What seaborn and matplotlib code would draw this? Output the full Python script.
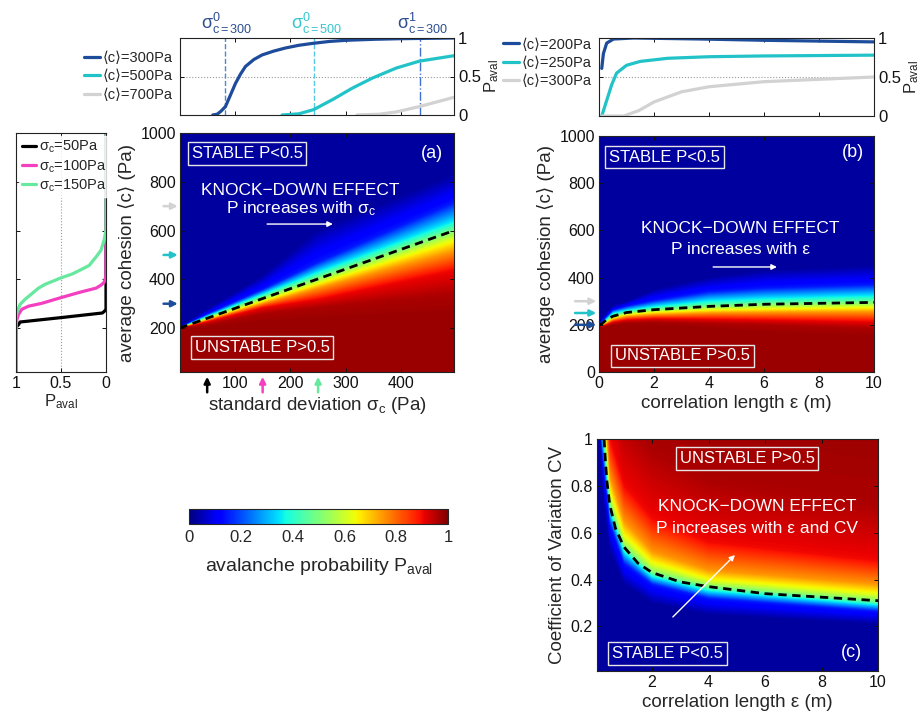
import numpy as np
import matplotlib
matplotlib.use("Agg")
import matplotlib.pyplot as plt
import matplotlib.transforms as mtrans
import seaborn as sns

# ---------------- data ----------------
# top-left panel: P_aval vs sigma_c for <c> = 300, 500, 700 Pa
sig_c300 = [60, 68, 75, 83, 92, 101, 110, 119, 134, 149, 170, 191, 215, 240, 270, 300, 350, 391, 440, 495]
p_c300 = [0, 0.01, 0.05, 0.11, 0.26, 0.41, 0.53, 0.63, 0.72, 0.78, 0.83, 0.87, 0.905, 0.93, 0.955, 0.97, 0.983, 0.99, 0.995, 1.0]
sig_c500 = [185, 215, 242, 276, 312, 348, 391, 433, 495]
p_c500 = [0, 0.015, 0.07, 0.2, 0.35, 0.48, 0.61, 0.70, 0.77]
sig_c700 = [320, 360, 391, 433, 495]
p_c700 = [0, 0.01, 0.04, 0.11, 0.23]
sig_marks = [83, 242, 434]            # sigma^0_{c=300}, sigma^0_{c=500}, sigma^1_{c=300}

# top-right panel: P_aval vs epsilon for <c> = 200, 250, 300 Pa
eps_c200 = [0.1, 0.16, 0.28, 0.53, 1.26, 3.69, 6.1, 10]
p_c200 = [0.61, 0.8, 0.935, 0.987, 1.0, 0.987, 0.97, 0.95]
eps_c250 = [0.1, 0.28, 0.46, 0.64, 1.0, 1.5, 2.5, 4, 6, 8, 10]
p_c250 = [0, 0.2, 0.4, 0.55, 0.65, 0.7, 0.74, 0.76, 0.77, 0.775, 0.78]
eps_c300 = [0.1, 0.9, 1.45, 2, 3, 4, 6, 8, 10]
p_c300b = [0, 0, 0.07, 0.18, 0.31, 0.375, 0.44, 0.47, 0.50]

# left panel: P_aval vs <c> for three sigma_c
c_s50 = [20, 200, 207, 215, 225, 243, 262, 270, 277, 1000]
p_s50 = [1, 1, 0.99, 0.97, 0.955, 0.5, 0.04, 0.015, 0, 0]
c_s100 = [20, 210, 234, 255, 277, 290, 301, 325, 346, 364, 376, 388, 416, 1000]
p_s100 = [1, 1, 0.99, 0.974, 0.936, 0.86, 0.72, 0.5, 0.3, 0.11, 0.056, 0.02, 0, 0]
c_s150 = [20, 240, 256, 275, 297, 318, 341, 364, 380, 406, 422, 443, 457, 492, 519, 562, 603, 1000]
p_s150 = [1, 1, 0.995, 0.98, 0.955, 0.9, 0.824, 0.75, 0.674, 0.5, 0.375, 0.26, 0.187, 0.11, 0.056, 0.02, 0, 0]

# panel (a): contour positions (<c>) of P levels at several sigma_c
pa_levels = [0.975, 0.96, 0.9, 0.75, 0.62, 0.5, 0.35, 0.15, 0.03]
pa_sigma = [0, 50, 150, 250, 495]
pa_c = [[198, 199, 199.5, 200, 200.5, 201, 202, 203, 205],
        [205, 215, 227, 234, 238, 243, 249, 257, 277],
        [225, 260, 285, 301, 313, 325, 340, 358, 416],
        [240, 285, 320, 364, 386, 406, 432, 470, 603],
        [260, 340, 440, 515, 566, 600, 640, 715, 830]]
pa_line_sigma = [0, 495]
pa_line_c = [200, 600]

# panel (b): contour positions (<c>) of P levels at several epsilon
pb_levels = [0.975, 0.96, 0.9, 0.75, 0.62, 0.5, 0.35, 0.15, 0.03]
pb_eps = [0, 0.1, 0.5, 1, 2, 4, 6, 10]
pb_c = [[196, 197, 198, 199, 199.5, 200, 200.5, 201, 202],
        [185, 190, 194, 197, 200, 203, 207, 214, 230],
        [195, 203, 212, 222, 230, 236, 250, 262, 280],
        [200, 210, 222, 235, 245, 252, 262, 278, 300],
        [198, 213, 227, 243, 255, 264, 279, 302, 350],
        [185, 205, 225, 250, 265, 278, 303, 340, 400],
        [165, 200, 222, 252, 270, 287, 313, 355, 430],
        [150, 185, 215, 255, 277, 295, 325, 370, 450]]
pb_line_eps = [0, 0.1, 0.25, 0.5, 1, 2, 4, 6, 8, 10]
pb_line_c = [200, 204, 220, 236, 252, 264, 278, 287, 291, 295]

# panel (c): contour positions (CV) of P levels at several epsilon
pc_levels = [0.03, 0.15, 0.35, 0.5, 0.62, 0.75, 0.9, 0.96, 0.975]
pc_eps = [0.05, 0.2, 0.3, 0.5, 1, 2, 4, 10]
pc_cv = [[1.3, 1.5, 1.7, 1.8, 1.9, 2.0, 2.2, 2.5, 3.0],
         [0.85, 0.97, 1.05, 1.15, 1.25, 1.35, 1.5, 1.8, 2.2],
         [0.7, 0.86, 0.94, 1.0, 1.08, 1.15, 1.3, 1.6, 2.0],
         [0.52, 0.64, 0.69, 0.72, 0.77, 0.84, 1.0, 1.3, 1.7],
         [0.38, 0.47, 0.515, 0.54, 0.58, 0.65, 0.8, 1.1, 1.5],
         [0.3, 0.38, 0.41, 0.43, 0.465, 0.52, 0.66, 0.95, 1.3],
         [0.25, 0.32, 0.35, 0.37, 0.395, 0.44, 0.56, 0.82, 1.15],
         [0.21, 0.265, 0.29, 0.307, 0.335, 0.38, 0.48, 0.72, 1.05]]
pc_line_eps = [0.3, 0.35, 0.4, 0.5, 0.7, 1, 1.5, 2, 3, 4, 6, 8, 10]
pc_line_cv = [1.0, 0.9, 0.82, 0.72, 0.62, 0.54, 0.47, 0.43, 0.39, 0.37, 0.34, 0.325, 0.31]

cbar_ticks = [0, 0.2, 0.4, 0.6, 0.8, 1]

# ---------------- style ----------------
sns.set_theme(style="ticks")
plt.rcParams["font.family"] = ["Liberation Sans", "DejaVu Sans"]
plt.rcParams["mathtext.fontset"] = "custom"
plt.rcParams["mathtext.rm"] = "Liberation Sans"
plt.rcParams["mathtext.it"] = "Liberation Sans"
plt.rcParams["mathtext.bf"] = "Liberation Sans:bold"
plt.rcParams["axes.unicode_minus"] = False

DBLUE = "#1d4c9a"
CYAN = "#22c3c8"
LGRAY = "#d2d2d2"
PINK = "#f43fc0"
MINT = "#66e89f"

W, H = 924, 717
fig = plt.figure(figsize=(W / 100, H / 100), dpi=100)


def add_ax(x0, y0, x1, y1):
    return fig.add_axes([x0 / W, 1 - y1 / H, (x1 - x0) / W, (y1 - y0) / H])


def style(ax, fs=11):
    for s in ax.spines.values():
        s.set_color("#222222")
        s.set_linewidth(0.8)
    ax.tick_params(direction="in", length=3, width=0.7, top=True, right=True,
                   bottom=True, left=True, labelsize=fs, colors="#111111", pad=3)


def build_field(xs, ys, stations, lev_vals, p_lev):
    lev = np.array(lev_vals, dtype=float)
    L = np.stack([np.interp(xs, stations, lev[:, k]) for k in range(lev.shape[1])], axis=1)
    Z = np.empty((len(ys), len(xs)))
    for j in range(len(xs)):
        Z[:, j] = np.interp(ys, L[j], p_lev)
    return Z


def boxtext(ax, x, y, s, fs=12):
    ax.text(x, y, s, transform=ax.transAxes, color="white", fontsize=fs, ha="center", va="center",
            bbox=dict(boxstyle="square,pad=0.22", fc="none", ec="#e6e6e6", lw=1.0), zorder=5)


def side_arrow(ax, xy, xytext, color, coords):
    ax.annotate("", xy=xy, xytext=xytext, xycoords=coords, textcoords=coords,
                arrowprops=dict(arrowstyle="-|>", color=color, lw=1.8, mutation_scale=9,
                                shrinkA=0, shrinkB=0), annotation_clip=False)


PLAB = r"P$_{\mathrm{aval}}$"

# ---------------- top-left ----------------
ax_tl = add_ax(180, 38, 454, 115)
sns.lineplot(x=sig_c300, y=p_c300, ax=ax_tl, color=DBLUE, lw=2.3, label="⟨c⟩=300Pa")
sns.lineplot(x=sig_c500, y=p_c500, ax=ax_tl, color=CYAN, lw=2.3, label="⟨c⟩=500Pa")
sns.lineplot(x=sig_c700, y=p_c700, ax=ax_tl, color=LGRAY, lw=2.3, label="⟨c⟩=700Pa")
ax_tl.axhline(0.5, color="#999999", ls=":", lw=0.8, zorder=0)
ax_tl.axvline(sig_marks[0], color="#4f86d6", ls="--", lw=1.0, zorder=0)
ax_tl.axvline(sig_marks[1], color="#56c8e6", ls="--", lw=1.0, zorder=0)
ax_tl.axvline(sig_marks[2], color="#4070d0", ls="-.", lw=1.0, zorder=0)
tr = mtrans.blended_transform_factory(ax_tl.transData, ax_tl.transAxes)
ax_tl.text(85, 1.03, r"$\sigma^0_{c=300}$", transform=tr, ha="center", va="bottom", color="#2d4f91", fontsize=13)
ax_tl.text(247, 1.03, r"$\sigma^0_{c=500}$", transform=tr, ha="center", va="bottom", color="#35c6cf", fontsize=13)
ax_tl.text(438, 1.03, r"$\sigma^1_{c=300}$", transform=tr, ha="center", va="bottom", color="#2d4f91", fontsize=13)
ax_tl.set_xlim(1, 495)
ax_tl.set_ylim(0, 1)
ax_tl.set_xticks([100, 200, 300, 400])
ax_tl.set_yticks([0, 0.5, 1])
ax_tl.set_yticklabels(["0", "0.5", "1"])
style(ax_tl, 12)
ax_tl.tick_params(labelbottom=False, labelleft=False, labelright=True)
ax_tl.yaxis.set_label_position("right")
ax_tl.set_ylabel(PLAB, fontsize=12, labelpad=1)
ax_tl.set_xlabel("")
ax_tl.legend(loc="center right", bbox_to_anchor=(-0.005, 0.5), frameon=False, fontsize=10.5,
             handlelength=1.1, handletextpad=0.2, labelspacing=0.3, borderaxespad=0)

# ---------------- top-right ----------------
ax_tr = add_ax(599, 38, 874, 116)
sns.lineplot(x=eps_c200, y=p_c200, ax=ax_tr, color=DBLUE, lw=2.3, label="⟨c⟩=200Pa")
sns.lineplot(x=eps_c250, y=p_c250, ax=ax_tr, color=CYAN, lw=2.3, label="⟨c⟩=250Pa")
sns.lineplot(x=eps_c300, y=p_c300b, ax=ax_tr, color=LGRAY, lw=2.3, label="⟨c⟩=300Pa")
ax_tr.axhline(0.5, color="#999999", ls=":", lw=0.8, zorder=0)
ax_tr.set_xlim(0, 10)
ax_tr.set_ylim(0, 1)
ax_tr.set_xticks([2, 4, 6, 8])
ax_tr.set_yticks([0, 0.5, 1])
ax_tr.set_yticklabels(["0", "0.5", "1"])
style(ax_tr, 12)
ax_tr.tick_params(labelbottom=False, labelleft=False, labelright=True)
ax_tr.yaxis.set_label_position("right")
ax_tr.set_ylabel(PLAB, fontsize=12, labelpad=1)
ax_tr.set_xlabel("")
ax_tr.legend(loc="upper right", bbox_to_anchor=(-0.005, 1.08), frameon=False, fontsize=10.5,
             handlelength=1.1, handletextpad=0.2, labelspacing=0.3, borderaxespad=0)

# ---------------- left panel ----------------
ax_l = add_ax(16, 133, 106, 372)
ax_l.axvline(0.5, color="#999999", ls=":", lw=0.8, zorder=0)
sns.lineplot(x=p_s50, y=c_s50, ax=ax_l, color="black", lw=2.3, orient="y", estimator=None, label=r"$\sigma_c$=50Pa")
sns.lineplot(x=p_s100, y=c_s100, ax=ax_l, color=PINK, lw=2.3, orient="y", estimator=None, label=r"$\sigma_c$=100Pa")
sns.lineplot(x=p_s150, y=c_s150, ax=ax_l, color=MINT, lw=2.3, orient="y", estimator=None, label=r"$\sigma_c$=150Pa")
ax_l.set_xlim(1, 0)
ax_l.set_ylim(20, 1000)
ax_l.set_xticks([1, 0.5, 0])
ax_l.set_xticklabels(["1", "0.5", "0"])
ax_l.set_yticks([200, 400, 600, 800])
style(ax_l, 11.5)
ax_l.tick_params(labelleft=False)
ax_l.set_ylabel("")
ax_l.set_xlabel(PLAB, fontsize=12, labelpad=1)
leg = ax_l.legend(loc="upper left", bbox_to_anchor=(0.0, 1.0), frameon=True, fontsize=10.5,
                  handlelength=1.0, handletextpad=0.2, labelspacing=0.2, borderaxespad=0.2,
                  borderpad=0.2, fancybox=False)
leg.get_frame().set_facecolor("white")
leg.get_frame().set_edgecolor("white")

# ---------------- panel (a) ----------------
ax_a = add_ax(180, 133, 454, 372)
xs = np.linspace(1, 495, 500)
ys = np.linspace(20, 1000, 600)
Za = build_field(xs, ys, pa_sigma, pa_c, pa_levels)
ax_a.imshow(Za, origin="lower", extent=[1, 495, 20, 1000], aspect="auto", cmap="jet",
            vmin=0, vmax=1, interpolation="bilinear")
sns.lineplot(x=pa_line_sigma, y=pa_line_c, ax=ax_a, color="black", lw=2.0, linestyle=(0, (3, 2)))
ax_a.set_xlim(1, 495)
ax_a.set_ylim(20, 1000)
ax_a.set_xticks([100, 200, 300, 400])
ax_a.set_yticks([200, 400, 600, 800, 1000])
style(ax_a, 11.5)
ax_a.set_xlabel(r"standard deviation $\sigma_c$ (Pa)", fontsize=13.5, labelpad=3)
ax_a.set_ylabel("average cohesion ⟨c⟩ (Pa)", fontsize=13.5, labelpad=3)
boxtext(ax_a, 0.245, 0.914, "STABLE P<0.5")
boxtext(ax_a, 0.30, 0.1025, "UNSTABLE P>0.5")
ax_a.text(0.92, 0.915, "(a)", transform=ax_a.transAxes, color="white", fontsize=13, ha="center", va="center")
ax_a.text(0.438, 0.761, "KNOCK−DOWN EFFECT", transform=ax_a.transAxes, color="white", fontsize=12.5, ha="center", va="center")
ax_a.text(0.44, 0.685, r"P increases with $\sigma_c$", transform=ax_a.transAxes, color="white", fontsize=12.5, ha="center", va="center")
ax_a.annotate("", xy=(0.558, 0.619), xytext=(0.318, 0.619), xycoords="axes fraction",
              arrowprops=dict(arrowstyle="-|>", color="white", lw=1.0, mutation_scale=8, shrinkA=0, shrinkB=0))
for cval, col in [(700, LGRAY), (500, CYAN), (300, DBLUE)]:
    side_arrow(ax_a, (-0.008, cval), (-0.06, cval), col, ("axes fraction", "data"))
for sval, col in [(50, "black"), (150, PINK), (250, MINT)]:
    side_arrow(ax_a, (sval, -0.02), (sval, -0.085), col, ("data", "axes fraction"))

# ---------------- panel (b) ----------------
ax_b = add_ax(599, 136, 874, 372)
xs = np.linspace(0, 10, 600)
ys = np.linspace(0, 1000, 700)
Zb = build_field(xs, ys, pb_eps, pb_c, pb_levels)
ax_b.imshow(Zb, origin="lower", extent=[0, 10, 0, 1000], aspect="auto", cmap="jet",
            vmin=0, vmax=1, interpolation="bilinear")
sns.lineplot(x=pb_line_eps, y=pb_line_c, ax=ax_b, color="black", lw=2.0, linestyle=(0, (3, 2)))
ax_b.set_xlim(0, 10)
ax_b.set_ylim(0, 1000)
ax_b.set_xticks([0, 2, 4, 6, 8, 10])
ax_b.set_yticks([0, 200, 400, 600, 800, 1000])
style(ax_b, 11.5)
ax_b.set_xlabel("correlation length ε (m)", fontsize=13.5, labelpad=3)
ax_b.set_ylabel("average cohesion ⟨c⟩ (Pa)", fontsize=13.5, labelpad=3)
boxtext(ax_b, 0.238, 0.911, "STABLE P<0.5")
boxtext(ax_b, 0.304, 0.068, "UNSTABLE P>0.5")
ax_b.text(0.924, 0.93, "(b)", transform=ax_b.transAxes, color="white", fontsize=13, ha="center", va="center")
ax_b.text(0.513, 0.606, "KNOCK−DOWN EFFECT", transform=ax_b.transAxes, color="white", fontsize=12.5, ha="center", va="center")
ax_b.text(0.514, 0.517, "P increases with ε", transform=ax_b.transAxes, color="white", fontsize=12.5, ha="center", va="center")
ax_b.annotate("", xy=(0.647, 0.445), xytext=(0.415, 0.445), xycoords="axes fraction",
              arrowprops=dict(arrowstyle="-|>", color="white", lw=1.0, mutation_scale=8, shrinkA=0, shrinkB=0))
for cval, col in [(300, LGRAY), (250, CYAN), (200, DBLUE)]:
    side_arrow(ax_b, (-0.01, cval), (-0.087, cval), col, ("axes fraction", "data"))

# ---------------- panel (c) ----------------
ax_c = add_ax(597, 439, 878, 671)
xs = np.linspace(0.05, 10, 800)
ys = np.linspace(0.01, 1, 600)
Zc = build_field(xs, ys, pc_eps, pc_cv, pc_levels)
ax_c.imshow(Zc, origin="lower", extent=[0.05, 10, 0.01, 1], aspect="auto", cmap="jet",
            vmin=0, vmax=1, interpolation="bilinear")
sns.lineplot(x=pc_line_eps, y=pc_line_cv, ax=ax_c, color="black", lw=2.0, linestyle=(0, (3, 2)))
ax_c.set_xlim(0.05, 10)
ax_c.set_ylim(0.01, 1)
ax_c.set_xticks([2, 4, 6, 8, 10])
ax_c.set_yticks([0.2, 0.4, 0.6, 0.8, 1])
ax_c.set_yticklabels(["0.2", "0.4", "0.6", "0.8", "1"])
style(ax_c, 11.5)
ax_c.set_xlabel("correlation length ε (m)", fontsize=13.5, labelpad=3)
ax_c.set_ylabel("Coefficient of Variation CV", fontsize=13.5, labelpad=3)
boxtext(ax_c, 0.534, 0.916, "UNSTABLE P>0.5")
boxtext(ax_c, 0.251, 0.075, "STABLE P<0.5")
ax_c.text(0.907, 0.078, "(c)", transform=ax_c.transAxes, color="white", fontsize=13, ha="center", va="center")
ax_c.text(0.569, 0.707, "KNOCK−DOWN EFFECT", transform=ax_c.transAxes, color="white", fontsize=12.5, ha="center", va="center")
ax_c.text(0.569, 0.616, "P increases with ε and CV", transform=ax_c.transAxes, color="white", fontsize=12.5, ha="center", va="center")
ax_c.annotate("", xy=(0.491, 0.500), xytext=(0.270, 0.233), xycoords="axes fraction",
              arrowprops=dict(arrowstyle="-|>", color="white", lw=1.0, mutation_scale=8, shrinkA=0, shrinkB=0))

# ---------------- colorbar ----------------
cax = add_ax(189, 509, 448, 524)
sm = plt.cm.ScalarMappable(cmap="jet", norm=plt.Normalize(0, 1))
cb = fig.colorbar(sm, cax=cax, orientation="horizontal", ticks=cbar_ticks)
cb.ax.set_xticklabels(["0", "0.2", "0.4", "0.6", "0.8", "1"])
cb.outline.set_linewidth(0.8)
cb.ax.tick_params(direction="in", length=3, width=0.7, top=True, bottom=True, labelsize=12, pad=4)
cb.set_label(r"avalanche probability P$_{\mathrm{aval}}$", fontsize=14, labelpad=8)

fig.savefig("out.png", dpi=100)
